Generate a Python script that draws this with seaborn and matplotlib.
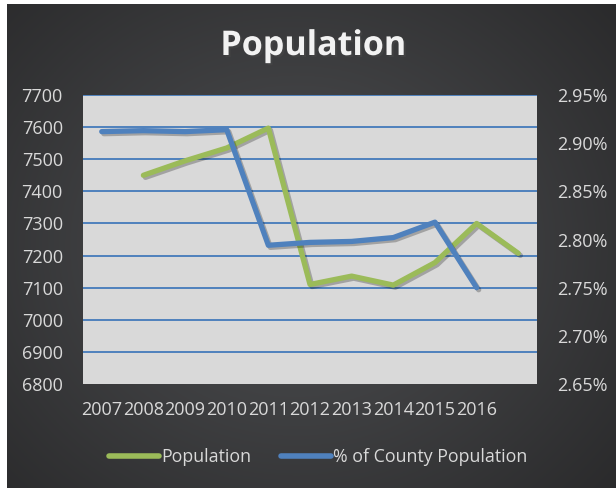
import numpy as np
import pandas as pd
import matplotlib
matplotlib.use("Agg")
import matplotlib.pyplot as plt
import seaborn as sns
from matplotlib import patheffects as pe
from matplotlib.lines import Line2D

# Data
years = ["2007", "2008", "2009", "2010", "2011", "2012", "2013", "2014", "2015", "2016", ""]
population = [np.nan, 7450, 7495, 7535, 7597, 7110, 7136, 7108, 7178, 7300, 7207]
county_share = [2.912, 2.913, 2.912, 2.914, 2.794, 2.797, 2.798, 2.802, 2.818, 2.750, np.nan]
pop_ticks = [6800, 6900, 7000, 7100, 7200, 7300, 7400, 7500, 7600, 7700]
share_ticks = [2.65, 2.70, 2.75, 2.80, 2.85, 2.90, 2.95]

df = pd.DataFrame({
    "pos": np.arange(len(years)),
    "year": years,
    "population": population,
    "share": county_share,
})

sns.set_style("white")
plt.rcParams["font.family"] = ["Open Sans", "DejaVu Sans"]

W, H = 616, 488
fig = plt.figure(figsize=(W / 100, H / 100), dpi=100, facecolor="white")

# Dark radial-gradient backdrop
bg = fig.add_axes([7 / W, 0, (W - 7) / W, (H - 4) / H])
gx, gy = np.meshgrid(np.linspace(-1, 1, 400), np.linspace(-1, 1, 320))
r = np.sqrt((gx + 0.05) ** 2 + (gy * 0.9) ** 2)
shade = np.clip(1 - r / 1.45, 0, 1)
dark = np.array([0.16, 0.16, 0.165])
light = np.array([0.31, 0.315, 0.325])
img = dark + (light - dark) * shade[..., None]
bg.imshow(img, aspect="auto", extent=[0, 1, 0, 1])
bg.set_axis_off()

# Plot area
left, right, top, bottom = 83, 537, 95, 384
ax = fig.add_axes([left / W, 1 - bottom / H, (right - left) / W, (bottom - top) / H])
ax.set_facecolor("#d9d9d9")
ax2 = ax.twinx()

green = "#9bbb59"
blue = "#4f81bd"
shadow = [pe.SimpleLineShadow(offset=(1.5, -1.5), alpha=0.25, shadow_color="black"), pe.Normal()]

sns.lineplot(data=df, x="pos", y="population", ax=ax, color=green, lw=3.8,
             legend=False, path_effects=shadow)
sns.lineplot(data=df, x="pos", y="share", ax=ax2, color=blue, lw=3.8,
             legend=False, path_effects=shadow)

for a in (ax, ax2):
    a.set_xlim(-0.45, len(years) - 0.55)
    for s in a.spines.values():
        s.set_visible(False)
    a.set_xlabel("")
    a.set_ylabel("")

ax.set_ylim(6800, 7700)
ax.set_yticks(pop_ticks)
ax.set_yticklabels([str(t) for t in pop_ticks])
ax.set_xticks(df["pos"])
ax.set_xticklabels(years)
ax.grid(axis="y", color=blue, lw=1.4)
ax.grid(axis="x", visible=False)
ax.get_ygridlines()[0].set_visible(False)
ax.set_axisbelow(True)

ax2.set_ylim(2.65, 2.95)
ax2.set_yticks(share_ticks)
ax2.set_yticklabels([f"{t:.2f}%" for t in share_ticks])
ax2.grid(False)

label_color = "#d9d9d9"
ax.tick_params(axis="y", length=0, pad=14.5, labelsize=13, labelcolor=label_color)
ax.tick_params(axis="x", length=0, pad=12.5, labelsize=13, labelcolor=label_color)
ax2.tick_params(axis="y", length=0, pad=14.5, labelsize=13, labelcolor=label_color)

# Title
fig.text(0.508, 1 - 46 / H, "Population", ha="center", va="center",
         fontsize=24.5, fontweight="bold", color="#f2f2f2",
         path_effects=[pe.withSimplePatchShadow(offset=(1.5, -1.5), alpha=0.5)])

# Legend
handles = [
    Line2D([], [], color=green, lw=4, solid_capstyle="round"),
    Line2D([], [], color=blue, lw=4, solid_capstyle="round"),
]
leg = fig.legend(handles, ["Population", "% of County Population"],
                 loc="center", bbox_to_anchor=(0.517, 1 - 457 / H), ncol=2,
                 frameon=False, fontsize=12.8, handlelength=2.8,
                 handletextpad=0.15, columnspacing=1.65, labelcolor=label_color)

fig.savefig("out.png", dpi=100, facecolor="white")
